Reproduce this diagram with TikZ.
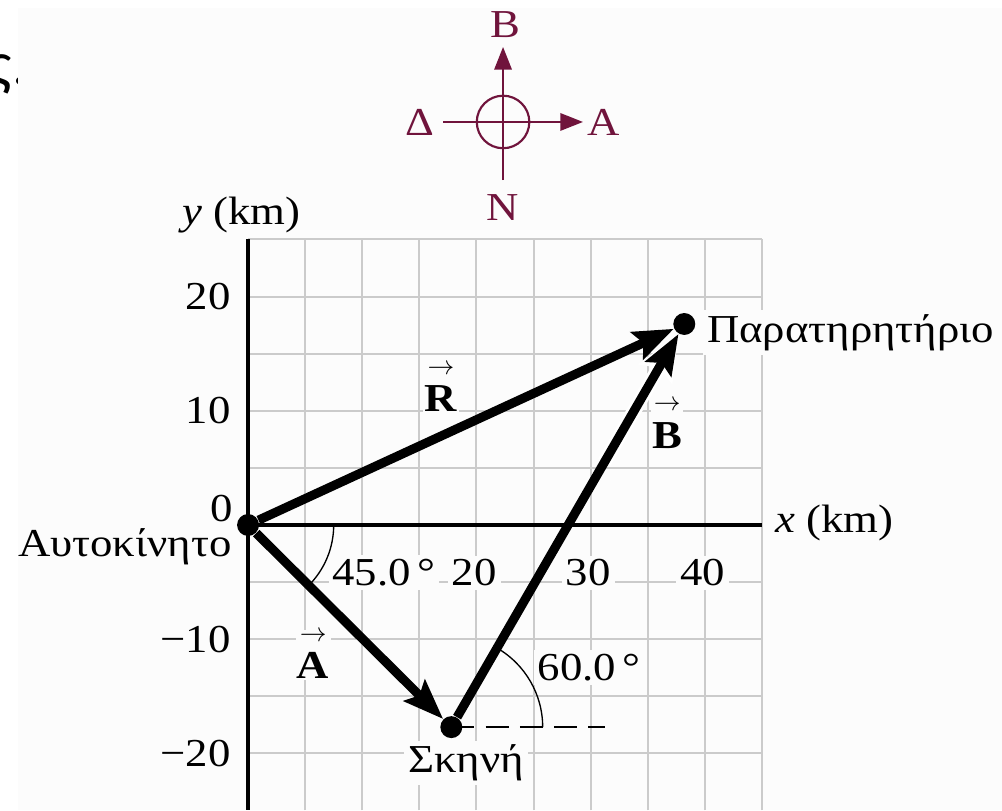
\documentclass[tikz,border=0pt]{standalone}
\usepackage{fontspec}
\setmainfont{Liberation Serif}[FakeStretch=1.13]
\newfontfamily\pagefont{Carlito}
\usetikzlibrary{arrows.meta}
\definecolor{compass}{RGB}{112,20,60}
\definecolor{gridgray}{RGB}{203,203,203}
\definecolor{pagebg}{RGB}{252,252,252}
\tikzset{
    dot/.style={circle, fill=black, inner sep=0pt, minimum size=8.2pt},
    vec/.style={line width=3.4pt, -{Stealth[length=15pt,width=11pt,inset=2.5pt]}},
    lbl/.style={fill=pagebg, inner sep=1.5pt},
    gridline/.style={gridgray, line width=0.75pt},
    roselbl/.style={text=compass, inner sep=0pt},
}

\begin{document}
\begin{tikzpicture}[x=0.15cm, y=0.15cm, font=\fontsize{14.8}{17}\selectfont]
    \useasboundingbox (-21.72,-24.96) rectangle (66.02,45.97);
    % Page text behind the figure
    \node[font=\pagefont\fontsize{23}{26}\selectfont, anchor=base east, inner sep=0pt] (pagetext) at (-19.25,38.53) {ς.};
    \fill[pagebg] (-20.14,-24.96) rectangle (66.02,45.27);
    % Grid
    \foreach \gx in {5,10,...,45}
        \draw[gridline] (\gx,-25) -- (\gx,25);
    \foreach \gy in {-20,-15,...,25}
        \draw[gridline] (0,\gy) -- (45,\gy);
    % Axes
    \draw[line width=1.5pt] (0,25) -- (0,-25);
    \draw[line width=1.2pt] (0,0) -- (45,0);
    \foreach \yv/\yt in {20/20,10/10,-10/−10,-20/−20}
        \node[anchor=east, inner sep=0pt] (ytick\yv) at (-1.5,\yv) {\yt};
    \node (ytick0) at (-2.3,1.4) {0};
    \foreach \xv in {20,30,40}
        \node[lbl] (xtick\xv) at (\xv-0.2,-4.2) {\xv};
    \node[anchor=base west, inner sep=0pt] (xlab) at (46.15,-0.7) {\textit{x} (km)};
    \node[anchor=base, inner sep=0pt] (ylab) at (-0.6,26.3) {\textit{y} (km)};
    % Angles
    \draw[line width=0.5pt] (7.5,0) arc[start angle=0, end angle=-45, radius=7.5];
    \node[lbl] (ang45) at (11.9,-4.2) {45.0\,°};
    % Places
    \node[dot] (car) at (0,0) {};
    \node[dot] (tent) at (17.8,-17.7) {};
    \node[dot] (obs) at (38.2,17.6) {};
    \node[anchor=base east, inner sep=0pt] (carlab) at (-1.4,-2.8) {Αυτοκίνητο};
    \node[lbl, anchor=base] (tentlab) at (19.1,-21.7) {Σκηνή};
    \node[lbl, anchor=base west] (obslab) at (39.8,16.0) {Παρατηρητήριο};
    % Dashed reference and 60 degrees
    \coordinate (dashend) at (31.26,-17.7);
    \draw[line width=0.8pt, dash pattern=on 8.6pt off 4.2pt] (tent.center) -- (dashend);
    \draw[line width=0.5pt] (tent.center) ++(8,0) arc[start angle=0, end angle=60, radius=8];
    \node[lbl] (ang60) at (29.86,-12.5) {60.0\,°};
    % Vectors
    \draw[vec] (car) -- (obs);
    \draw[vec] (car) -- (tent);
    \draw[white, line width=5.4pt, shorten <=110pt, -{Stealth[length=17pt,width=14pt,inset=2.5pt]}] (tent) -- (obs);
    \draw[vec] (tent) -- (obs);
    \node[lbl, align=center, inner sep=0.5pt] (labA) at (5.7,-11.4) {$\scriptstyle\rightarrow$\\[-3pt]\textbf{A}};
    \node[lbl, align=center, inner sep=0.5pt] (labR) at (16.9,12.0) {$\scriptstyle\rightarrow$\\[-3pt]\textbf{R}};
    \node[lbl, align=center, inner sep=0.5pt] (labB) at (36.7,8.8) {$\scriptstyle\rightarrow$\\[-3pt]\textbf{B}};
    % Compass
    \begin{scope}[draw=compass, line width=0.8pt]
        \node[circle, draw=compass, line width=0.8pt, minimum size=0.69cm, inner sep=0pt] (rose) at (22.33,35.29) {};
        \coordinate (north) at (22.33,41.86);
        \coordinate (south) at (22.33,30.2);
        \coordinate (west) at (17.08,35.29);
        \coordinate (east) at (29.33,35.29);
        \draw[compass, -{Triangle[length=8.5pt,width=6.5pt]}] (south) -- (north);
        \draw[compass, -{Triangle[length=8.5pt,width=6.5pt]}] (west) -- (east);
        \node[roselbl] (lblN) at (22.5,43.8) {Β};
        \node[roselbl] (lblW) at (15.06,35.29) {Δ};
        \node[roselbl] (lblE) at (31.1,35.29) {Α};
        \node[roselbl] (lblS) at (22.33,27.76) {Ν};
    \end{scope}
\end{tikzpicture}
\end{document}
